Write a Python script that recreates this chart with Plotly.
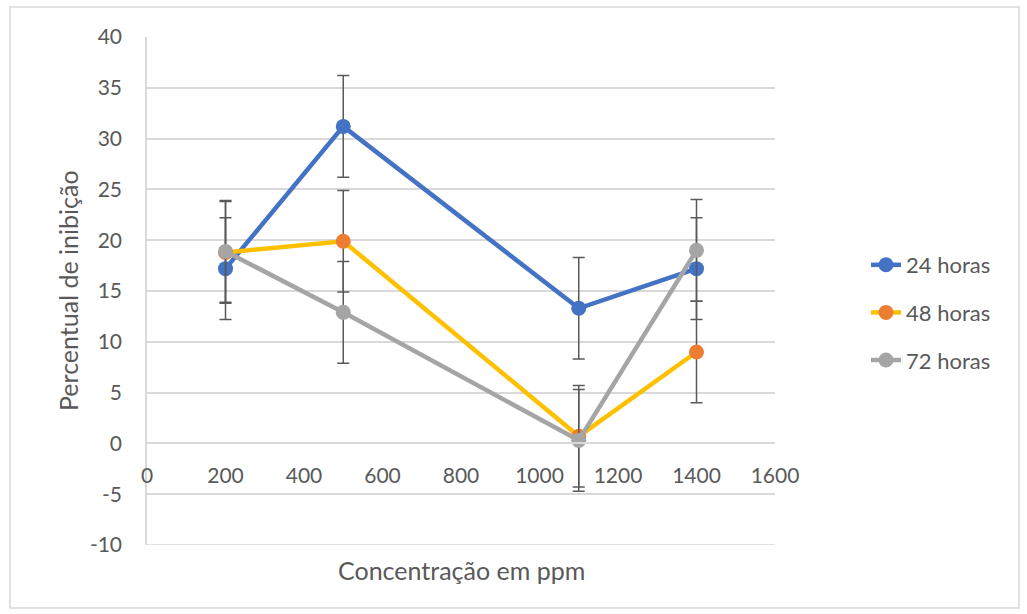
import plotly.graph_objects as go

concentracao = [200, 500, 1100, 1400]
h24 = [17.2, 31.2, 13.3, 17.2]
h48 = [18.8, 19.9, 0.7, 9.0]
h72 = [18.9, 12.9, 0.3, 19.0]
erro = [5, 5, 5, 5]
series_names = ["24 horas", "48 horas", "72 horas"]
y_ticks = [-10, -5, 0, 5, 10, 15, 20, 25, 30, 35, 40]
y_labels = ["-10", "-5", "0", "5", "10", "15", "20", "25", "30", "35", "40"]

FONT = "Lato, 'Open Sans', sans-serif"
TXT = "#595959"
GRID = "#D9D9D9"

styles = [
    dict(line="#4472C4", marker="#4472C4"),
    dict(line="#FFC000", marker="#ED7D31"),
    dict(line="#A5A5A5", marker="#A5A5A5"),
]

fig = go.Figure()
for i, (name, vals) in enumerate(zip(series_names, [h24, h48, h72])):
    fig.add_trace(go.Scatter(
        x=concentracao, y=vals, name=name, mode="lines+markers",
        line=dict(color=styles[i]["line"], width=4.5),
        marker=dict(color=styles[i]["marker"], size=15),
        error_y=dict(type="data", array=erro, visible=True,
                     color="#595959", thickness=1.5, width=6),
        legendgroup=name,
    ))

W, H = 1027, 614
L, R, T, B = 147, 775, 37, 545
pw, ph = R - L, B - T

fig.update_layout(
    width=W, height=H,
    margin=dict(l=L, r=W - R, t=T, b=H - B),
    paper_bgcolor="white", plot_bgcolor="white",
    font=dict(family=FONT, color=TXT, size=21),
    showlegend=True,
    legend=dict(x=(866 - L) / pw, y=(B - 244) / ph, xanchor="left", yanchor="top",
                font=dict(size=22, color=TXT), traceorder="grouped",
                tracegroupgap=16, bgcolor="rgba(0,0,0,0)"),
    xaxis=dict(range=[0, 1600], dtick=200, showgrid=False, zeroline=False,
               showline=True, linecolor=GRID, linewidth=1.5,
               anchor="free", position=0.2, ticks="",
               ticklabelstandoff=14, tickfont=dict(size=21, color=TXT)),
    yaxis=dict(range=[-10, 40], tickvals=y_ticks, ticktext=y_labels,
               showgrid=True, gridcolor=GRID, gridwidth=1.5,
               zeroline=False, showline=True, linecolor=GRID, linewidth=1.5,
               ticks="", ticklabelstandoff=19, tickfont=dict(size=21, color=TXT)),
    shapes=[
        dict(type="rect", xref="paper", yref="paper",
             x0=(10 - L) / pw, x1=(1019 - L) / pw,
             y0=(B - 608) / ph, y1=(B - 7) / ph,
             line=dict(color=GRID, width=1.5), fillcolor="rgba(0,0,0,0)",
             layer="below"),
        dict(type="line", xref="paper", yref="y", x0=0, x1=1, y0=-10, y1=-10,
             line=dict(color=GRID, width=1.5), layer="below"),
    ],
    annotations=[
        dict(text="Concentração em ppm", xref="paper", yref="paper",
             x=0.5, y=(B - 570) / ph, xanchor="center", yanchor="middle",
             showarrow=False, font=dict(size=25, color=TXT)),
        dict(text="Percentual de inibição", xref="paper", yref="paper",
             x=(68 - L) / pw, y=0.5, xanchor="center", yanchor="middle",
             textangle=-90, showarrow=False, font=dict(size=25, color=TXT)),
    ],
)

fig.write_html("out.html", config={"displayModeBar": False},
               post_script="document.body.style.margin='0';")
